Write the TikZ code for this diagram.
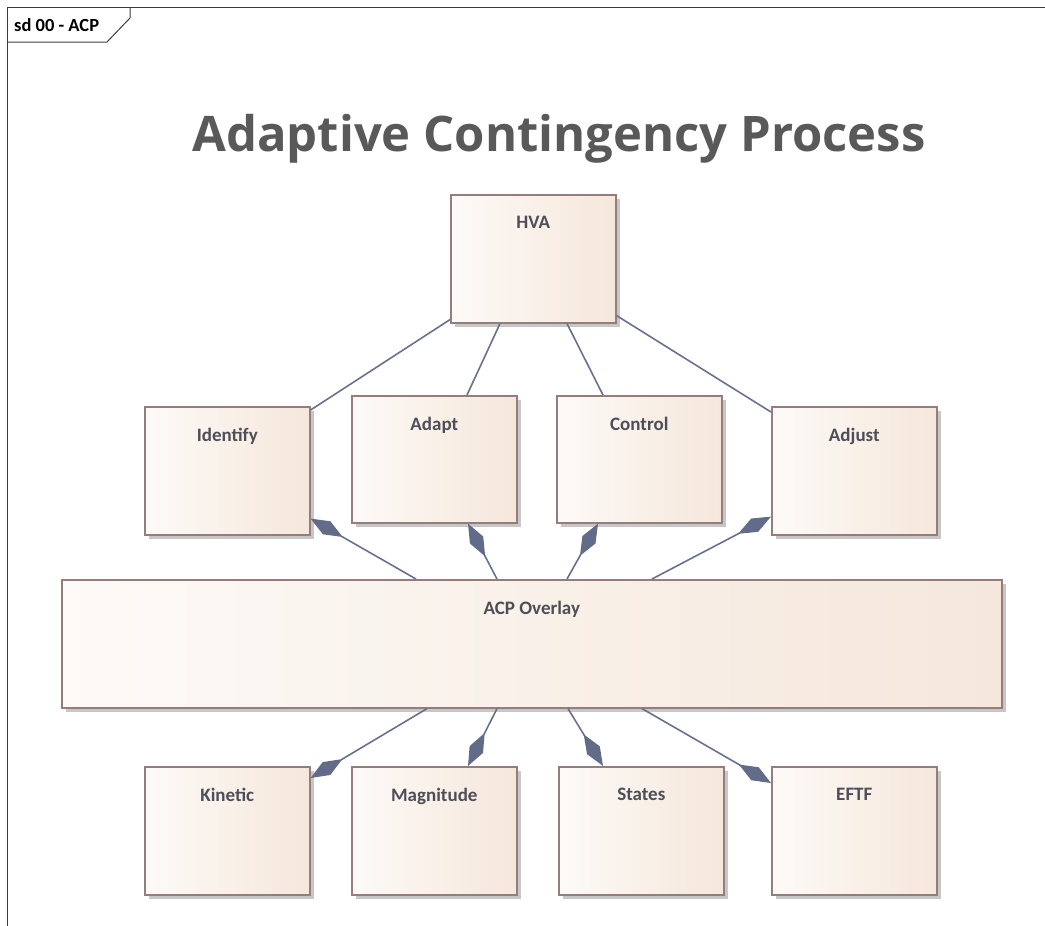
\documentclass[tikz,border=0pt]{standalone}
\usepackage{fontspec}
\setmainfont{Carlito}
\newfontfamily\titlefont{Open Sans}
\usetikzlibrary{arrows.meta,shadows}

\definecolor{boxedge}{RGB}{150,125,125}
\definecolor{boxleft}{RGB}{253,250,247}
\definecolor{boxright}{RGB}{245,231,219}
\definecolor{linkcol}{RGB}{104,114,142}
\definecolor{tipcol}{RGB}{98,108,136}
\definecolor{labelcol}{RGB}{78,78,88}
\definecolor{titlecol}{RGB}{89,89,89}
\definecolor{framecol}{RGB}{60,60,60}

\tikzset{
  umlbox/.style={draw=boxedge, line width=1.6pt, shading=axis,
    left color=boxleft, right color=boxright, shading angle=90,
    inner sep=0pt, anchor=north west,
    drop shadow={shadow xshift=4pt, shadow yshift=-4pt, fill=black!22, opacity=1}},
  boxlabel/.style={anchor=north, yshift=-22pt, inner sep=0pt,
    font=\fontsize{19}{22}\selectfont\bfseries, text=labelcol},
  link/.style={draw=linkcol, line width=1.6pt},
  part/.style={link, -{Diamond[length=37pt,width=15pt,fill=tipcol,line width=0pt]}},
}

\begin{document}
\begin{tikzpicture}[x=1pt,y=-1pt]
\useasboundingbox (0,0) rectangle (1045,926);

% diagram frame and its name tab
\draw[framecol, line width=1pt] (7,926) -- (7,7) -- (1045,7);
\draw[framecol, line width=1pt] (7,42) -- (107,42) -- (130,18) -- (130,7);
\node[anchor=base west, inner sep=0pt, font=\fontsize{18.5}{20}\selectfont\bfseries]
  (tab) at (14,31) {sd 00 - ACP};

% title
\node[anchor=base, inner sep=0pt, text=titlecol,
  font=\titlefont\fontsize{49}{58}\selectfont\bfseries]
  (title) at (559,151) {Adaptive Contingency Process};

% elements
\node[umlbox, minimum width=165pt, minimum height=128pt,
  label={[boxlabel]north:HVA}] (hva) at (450,194) {};

\node[umlbox, minimum width=165pt, minimum height=128pt,
  label={[boxlabel]north:Identify}] (ident) at (144,406) {};
\node[umlbox, minimum width=165pt, minimum height=127pt,
  label={[boxlabel]north:Adapt}] (adapt) at (351,395) {};
\node[umlbox, minimum width=165pt, minimum height=127pt,
  label={[boxlabel]north:Control}] (control) at (556,395) {};
\node[umlbox, minimum width=165pt, minimum height=128pt,
  label={[boxlabel]north:Adjust}] (adjust) at (771,406) {};

\node[umlbox, minimum width=940pt, minimum height=128pt,
  label={[boxlabel]north:ACP Overlay}] (ovl) at (61,579) {};

\node[umlbox, minimum width=165pt, minimum height=128pt,
  label={[boxlabel]north:Kinetic}] (kin) at (144,766) {};
\node[umlbox, minimum width=165pt, minimum height=128pt,
  label={[boxlabel]north:Magnitude}] (mag) at (351,766) {};
\node[umlbox, minimum width=165pt, minimum height=128pt,
  label={[boxlabel]north:States}] (states) at (558,766) {};
\node[umlbox, minimum width=165pt, minimum height=128pt,
  label={[boxlabel]north:EFTF}] (eftf) at (771,766) {};

% HVA links
\draw[link] ([yshift=4pt]hva.south west) -- ([yshift=-4pt]ident.north east);
\draw[link] ([xshift=50pt]hva.south west) -- ([xshift=116pt]adapt.north west);
\draw[link] ([xshift=117pt]hva.south west) -- ([xshift=47pt]control.north west);
\draw[link] ([yshift=8pt]hva.south east) -- ([yshift=-6pt]adjust.north west);

% overlay composed into the upper elements
\draw[part] ([xshift=355pt]ovl.north west) -- ([yshift=17pt]ident.south east);
\draw[part] ([xshift=436pt]ovl.north west) -- ([xshift=117pt]adapt.south west);
\draw[part] ([xshift=506pt]ovl.north west) -- ([xshift=42pt]control.south west);
\draw[part] ([xshift=591pt]ovl.north west) -- ([yshift=19pt]adjust.south west);

% overlay composed into the lower elements
\draw[part] ([xshift=366pt]ovl.south west) -- ([yshift=-12pt]kin.north east);
\draw[part] ([xshift=436pt]ovl.south west) -- ([xshift=117pt]mag.north west);
\draw[part] ([xshift=507pt]ovl.south west) -- ([xshift=45pt]states.north west);
\draw[part] ([xshift=581pt]ovl.south west) -- ([yshift=-17pt]eftf.north west);
\end{tikzpicture}
\end{document}
